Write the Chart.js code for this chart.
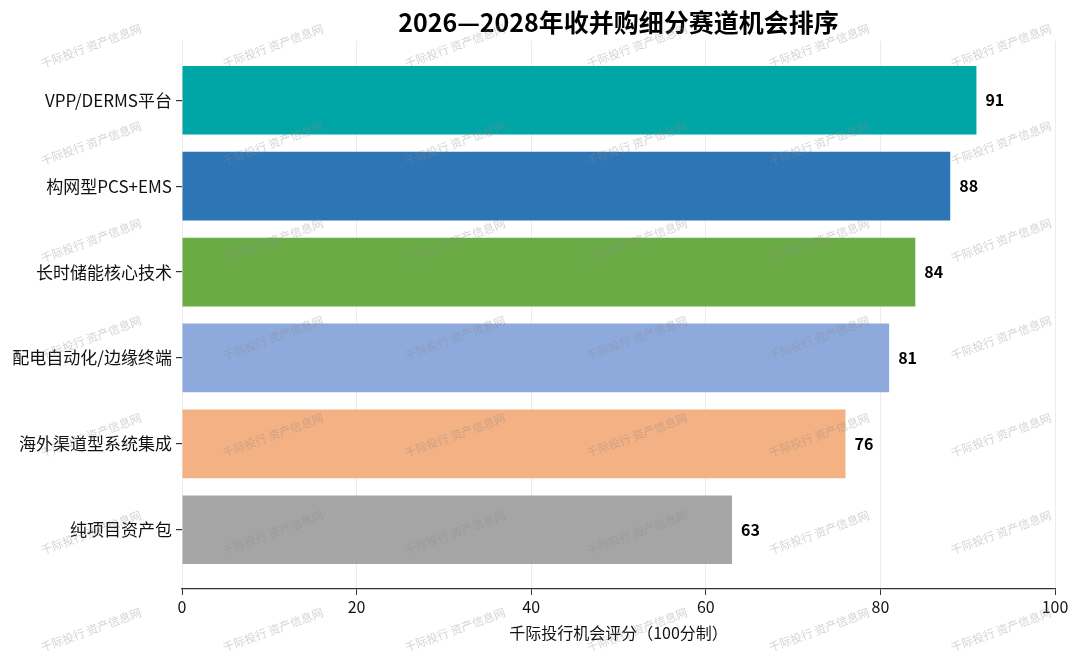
<!DOCTYPE html>
<html>
<head>
<meta charset="utf-8">
<script src="https://cdn.jsdelivr.net/npm/chart.js@4.4.1/dist/chart.umd.min.js"></script>
<style>
html,body{margin:0;padding:0;background:#fff;}
#wrap{width:1080px;height:655px;position:relative;}
</style>
</head>
<body>
<div id="wrap"><canvas id="c" width="1080" height="655"></canvas></div>
<script>
const categories = ["VPP/DERMS平台","构网型PCS+EMS","长时储能核心技术","配电自动化/边缘终端","海外渠道型系统集成","纯项目资产包"];
const scores = [91, 88, 84, 81, 76, 63];
const barColors = ["#00A5A5","#2E75B6","#6AAB46","#8EA9DB","#F4B183","#A5A5A5"];
const xTicks = [0, 20, 40, 60, 80, 100];
const titleText = "2026—2028年收并购细分赛道机会排序";
const xTitle = "千际投行机会评分（100分制）";
const watermark = "千际投行 资产信息网";

const FONT = '"Noto Sans CJK SC","Noto Sans",sans-serif';

const points = scores.map((v, i) => ({x: v, y: i}));

const titlePlugin = {
  id: 'titleP',
  afterDraw(chart) {
    const ctx = chart.ctx, a = chart.chartArea;
    ctx.save();
    ctx.font = 'bold 25px ' + FONT;
    ctx.fillStyle = '#000';
    ctx.textAlign = 'center';
    ctx.textBaseline = 'middle';
    ctx.fillText(titleText, (a.left + a.right) / 2, 22);
    ctx.restore();
  }
};

const valuePlugin = {
  id: 'valueP',
  afterDatasetsDraw(chart) {
    const ctx = chart.ctx;
    const meta = chart.getDatasetMeta(0);
    ctx.save();
    ctx.font = 'bold 16px ' + FONT;
    ctx.fillStyle = '#000';
    ctx.textAlign = 'left';
    ctx.textBaseline = 'middle';
    meta.data.forEach((bar, i) => {
      ctx.fillText(String(scores[i]), bar.x + 9, bar.y);
    });
    ctx.restore();
  }
};

const wmPlugin = {
  id: 'wmP',
  afterDraw(chart) {
    const ctx = chart.ctx;
    ctx.save();
    ctx.font = '11.5px ' + FONT;
    ctx.fillStyle = 'rgba(140,140,140,0.38)';
    ctx.textAlign = 'center';
    ctx.textBaseline = 'middle';
    for (let r = 0; r < 7; r++) {
      for (let c = 0; c < 6; c++) {
        const x = 91 + c * 182;
        const y = 46 + r * 97.3;
        ctx.save();
        ctx.translate(x, y);
        ctx.rotate(-20 * Math.PI / 180);
        ctx.fillText(watermark, 0, 0);
        ctx.restore();
      }
    }
    ctx.restore();
  }
};

new Chart(document.getElementById('c'), {
  type: 'bar',
  data: {
    datasets: [{
      data: points,
      backgroundColor: barColors,
      borderWidth: 0,
      categoryPercentage: 0.8,
      barPercentage: 1.0
    }]
  },
  options: {
    responsive: false,
    animation: false,
    indexAxis: 'y',
    layout: {padding: {top: 41, right: 25, left: 0, bottom: 0}},
    plugins: {legend: {display: false}, tooltip: {enabled: false}, title: {display: false}},
    scales: {
      x: {
        type: 'linear',
        min: 0, max: 100,
        afterBuildTicks(s) { s.ticks = xTicks.map(v => ({value: v})); },
        grid: {color: '#ececec', lineWidth: 1, tickColor: '#333', tickLength: 6, drawTicks: true},
        border: {display: true, color: '#333', width: 1.3},
        ticks: {color: '#111', font: {size: 16, family: FONT}, padding: 2},
        title: {display: true, text: xTitle, color: '#111', font: {size: 16, family: FONT}, padding: {top: 0, bottom: 12}},
        afterFit(s) { s.height = 66; }
      },
      y: {
        type: 'linear',
        reverse: true,
        offset: false,
        min: -0.69, max: 5.69,
        afterBuildTicks(s) { s.ticks = categories.map((_, i) => ({value: i})); },
        grid: {offset: false, drawOnChartArea: false, tickColor: '#333', tickLength: 6, lineWidth: 1.2},
        border: {display: false},
        ticks: {
          color: '#111', font: {size: 17, family: FONT}, padding: 4,
          callback(v) { return categories[v] !== undefined ? categories[v] : ''; }
        },
        afterFit(s) { s.width = 182; }
      }
    }
  },
  plugins: [titlePlugin, valuePlugin, wmPlugin]
});
</script>
</body>
</html>
